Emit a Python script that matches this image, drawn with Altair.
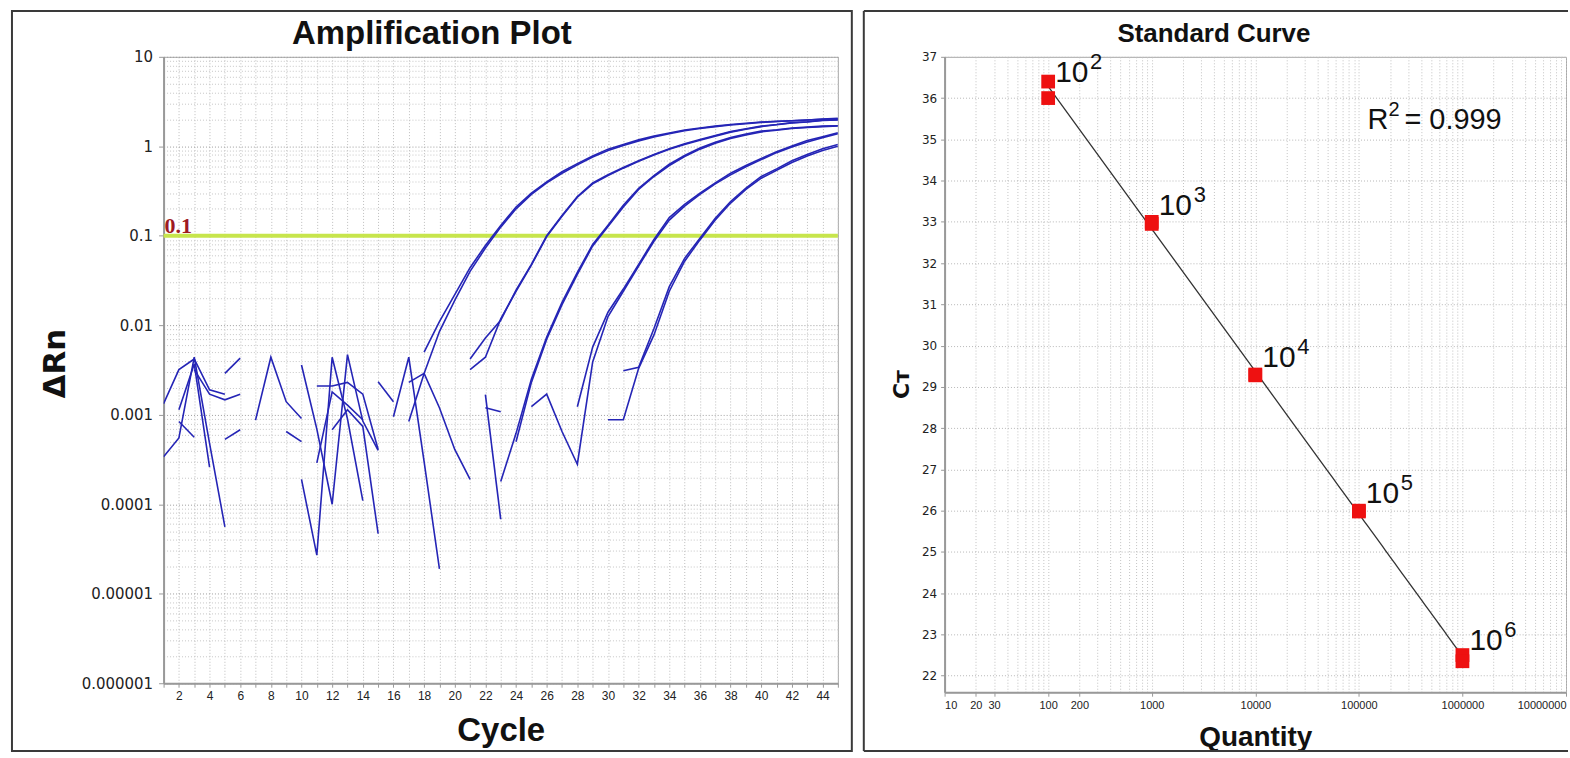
import json
import altair as alt
import pandas as pd
import numpy as np

N = None
CYCLES = list(range(1, 46))

# ---- Amplification plot: delta Rn per cycle for each well (None = not plotted) ----
A1 = [0.00133, 0.0032, 0.0042, 0.0019, 0.0017, N, N, N, N, N,
      N, N, N, N, N, N, N, 0.005, 0.011, 0.022,
      0.044, 0.078, 0.13, 0.21, 0.30, 0.40, 0.52, 0.64, 0.78, 0.93,
      1.05, 1.18, 1.30, 1.41, 1.52, 1.60, 1.68, 1.75, 1.81, 1.87,
      1.90, 1.93, 1.97, 2.02, 2.05]
A2 = [0.00034, 0.00055, 0.0044, 0.00048, 0.000056, N, N, N, N, N,
      N, N, N, N, N, N, 0.00084, 0.0029, 0.0085, 0.019,
      0.040, 0.073, 0.125, 0.20, 0.29, 0.39, 0.50, 0.62, 0.76, 0.90,
      1.02, 1.15, 1.27, 1.38, 1.49, 1.58, 1.66, 1.73, 1.79, 1.85,
      1.89, 1.93, 1.97, 2.00, 2.03]
B1 = [N, 0.00114, 0.0037, 0.00026, N, N, N, N, N, 0.0036,
      0.00069, 0.0001, 0.0047, 0.00085, 0.0004, N, N, N, N, N,
      0.0042, 0.0072, 0.0114, 0.0247, 0.048, 0.10, 0.169, 0.275, 0.39, 0.48,
      0.58, 0.69, 0.81, 0.94, 1.07, 1.19, 1.32, 1.46, 1.57, 1.68,
      1.75, 1.84, 1.88, 1.96, 1.98]
B2 = [N, 0.00084, 0.00056, N, N, N, N, N, N, 0.00019,
      0.000027, 0.0044, 0.0009, 0.00011, N, N, N, N, N, N,
      0.0032, 0.0044, 0.0118, 0.024, 0.047, 0.098, 0.165, 0.27, 0.38, 0.47,
      0.57, 0.68, 0.80, 0.93, 1.05, 1.17, 1.30, 1.44, 1.55, 1.66,
      1.74, 1.82, 1.87, 1.94, 1.97]
C1 = [N, N, 0.0032, 0.0017, 0.00147, 0.0017, N, N, N, N,
      0.00029, 0.0018, 0.00128, 0.00088, N, N, N, N, N, N,
      N, N, 0.00018, 0.00062, 0.0025, 0.0074, 0.018, 0.039, 0.080, 0.131,
      0.219, 0.34, 0.47, 0.63, 0.79, 0.955, 1.11, 1.25, 1.37, 1.48,
      1.53, 1.60, 1.64, 1.68, 1.70]
C2 = [N, N, N, N, 0.0029, 0.0043, N, N, N, N,
      N, 0.00068, 0.00114, 0.00074, 0.000047, N, N, N, N, N,
      N, N, N, 0.0005, 0.0023, 0.0070, 0.017, 0.037, 0.077, 0.127,
      0.21, 0.33, 0.46, 0.61, 0.77, 0.93, 1.08, 1.22, 1.34, 1.45,
      1.51, 1.58, 1.62, 1.66, 1.69]
D1 = [N, N, N, N, 0.00053, 0.00068, N, N, N, N,
      N, N, N, N, 0.00234, 0.0014, N, N, N, N,
      N, N, N, N, N, N, N, 0.00123, 0.0057, 0.014,
      0.0254, 0.048, 0.091, 0.16, 0.224, 0.30, 0.39, 0.50, 0.61, 0.73,
      0.87, 1.01, 1.16, 1.28, 1.42]
D2 = [N, N, N, N, N, N, 0.00087, 0.0044, 0.0014, 0.00091,
      N, N, N, N, N, N, 0.0023, 0.0029, 0.0012, 0.00041,
      0.00019, N, N, N, 0.00123, 0.0017, 0.00065, 0.00028, 0.0039, 0.0125,
      0.024, 0.046, 0.087, 0.15, 0.215, 0.29, 0.38, 0.48, 0.59, 0.71,
      0.85, 0.98, 1.12, 1.25, 1.38]
E1 = [N, N, N, N, N, N, N, N, 0.00065, 0.0005,
      N, N, N, N, N, 0.00095, 0.0044, 0.0003, 0.000019, N,
      N, 0.0012, 0.00108, N, N, N, N, N, N, N,
      0.0031, 0.0034, 0.0092, 0.027, 0.056, 0.094, 0.157, 0.242, 0.34, 0.46,
      0.56, 0.69, 0.81, 0.94, 1.05]
E2 = [N, N, N, N, N, N, N, N, N, N,
      0.0021, 0.0021, 0.0023, 0.0017, 0.00041, N, N, N, N, N,
      N, 0.00168, 0.000068, N, N, N, N, N, N, 0.00088,
      0.00088, 0.0033, 0.0078, 0.024, 0.052, 0.090, 0.150, 0.232, 0.33, 0.44,
      0.54, 0.66, 0.78, 0.90, 1.00]
WELLS = {"A1": A1, "A2": A2, "B1": B1, "B2": B2, "C1": C1,
         "C2": C2, "D1": D1, "D2": D2, "E1": E1, "E2": E2}
THRESHOLD = [0.1]
THRESHOLD_LABEL = ["0.1"]

# ---- Standard curve ----
STD_QUANTITY = [100, 100, 1000, 1000, 10000, 10000, 100000, 100000, 1000000, 1000000]
STD_CT = [36.4, 36.0, 33.0, 32.95, 29.3, 29.28, 26.0, 25.98, 22.5, 22.35]
R2_VALUE = "= 0.999"

X_RIGHT_LABELS = [10, 20, 30, 100, 200, 1000, 10000, 100000, 1000000, 10000000]
X_RIGHT_GRID = [k * 10 ** e for e in range(1, 7) for k in range(1, 10)] + [10 ** 7]
Y_LEFT_VALUES = [k * 10.0 ** e for e in range(-6, 1) for k in range(1, 10)] + [10.0]

for name, vals in WELLS.items():
    assert len(vals) == 45, (name, len(vals))

rows = []
for name, vals in WELLS.items():
    seg, prev = 0, False
    for c, v in zip(CYCLES, vals):
        if v is None:
            if prev:
                seg += 1
            prev = False
            continue
        rows.append({"well": name, "seg": f"{name}-{seg}", "cycle": c, "dRn": v})
        prev = True
amp = pd.DataFrame(rows)

std = pd.DataFrame({"quantity": STD_QUANTITY, "ct": STD_CT})
lab = std.groupby("quantity", as_index=False)["ct"].mean()
lab["base"] = "10"
lab["exp"] = [str(int(round(np.log10(q)))) for q in lab["quantity"]]

one = pd.DataFrame({"k": [0]})
FRAME = "#3a3a3a"
TXT = "#222222"
BOLD_FONT = "Liberation Sans"
NARROW = "Liberation Sans Narrow, Liberation Sans"

# ================= LEFT PANEL =================
W1, H1 = 676, 628
MAJOR = "abs(log(datum.value)/LN10 - round(log(datum.value)/LN10)) < 0.001"
xs1 = alt.Scale(domain=[1, 45], nice=False, zero=False)
ys1 = alt.Scale(type="log", domain=[1e-6, 10], nice=False)

x_axis1 = alt.Axis(
    values=CYCLES, labelExpr="datum.value % 2 == 0 ? datum.label : ''",
    labelOverlap=False, labelFont=NARROW, labelFontSize=12, labelColor=TXT,
    labelPadding=3, tickSize=4, tickColor="#999", domainColor="#999", domainWidth=2,
    grid=True, gridDash=[1, 2], gridColor="#bdbdbd",
    title="Cycle", titleFont=BOLD_FONT, titleFontSize=33, titleFontWeight="bold",
    titleColor="#111", titleY=47, titleBaseline="middle")
y_axis1 = alt.Axis(
    values=Y_LEFT_VALUES,
    labelExpr=f"{MAJOR} ? format(datum.value, '.6~f') : ''",
    labelOverlap=False, labelFont="DejaVu Sans", labelFontSize=15, labelColor=TXT,
    labelPadding=6, tickSize=5, tickColor="#999",
    tickOpacity={"condition": {"test": MAJOR, "value": 1}, "value": 0},
    domainColor="#999", domainWidth=2, grid=True, gridDash=[1, 2],
    gridColor={"condition": {"test": MAJOR, "value": "#9e9e9e"}, "value": "#c6c6c6"},
    title="ΔRn", titleFont="DejaVu Sans", titleFontSize=31, titleFontWeight="bold",
    titleColor="#111", titleX=-108, titleY=H1 / 2 - 7, titleAlign="center",
    titleBaseline="middle")

frame1 = alt.Chart(one).mark_rect(fillOpacity=0, stroke=FRAME, strokeWidth=2).encode(
    x=alt.value(-152), x2=alt.value(690), y=alt.value(-46), y2=alt.value(696))

curves = alt.Chart(amp).mark_line(color="#2525b6", strokeWidth=1.6, clip=True).encode(
    x=alt.X("cycle:Q", scale=xs1, axis=x_axis1),
    y=alt.Y("dRn:Q", scale=ys1, axis=y_axis1),
    detail="seg:N", order="cycle:Q")

thr = alt.Chart(pd.DataFrame({"t": THRESHOLD, "lab": THRESHOLD_LABEL}))
thr_rule = thr.mark_rule(color="#c7e54c", strokeWidth=4).encode(
    y=alt.Y("t:Q", scale=ys1, axis=y_axis1))
thr_text = thr.mark_text(align="left", baseline="alphabetic", dx=1, dy=-3,
                         font="Liberation Serif", fontSize=22, fontWeight="bold",
                         color="#9e1a22").encode(
    x=alt.value(0), y=alt.Y("t:Q", scale=ys1, axis=y_axis1), text="lab:N")

title1 = alt.Chart(pd.DataFrame({"t": ["Amplification Plot"]})).mark_text(
    font=BOLD_FONT, fontSize=33, fontWeight="bold", color="#111",
    align="center", baseline="alphabetic").encode(
    x=alt.value(269), y=alt.value(-13), text="t:N")

# invisible copy of the curves first so that it owns the axes; threshold drawn under the curves
left = alt.layer(curves.mark_line(opacity=0, clip=True), frame1, thr_rule, curves, thr_text,
                 title1).properties(width=W1, height=H1)

# ================= RIGHT PANEL =================
W2, H2 = 623, 637
xs2 = alt.Scale(type="log", domain=[10, 10 ** 7], nice=False)
ys2 = alt.Scale(domain=[21.6, 37], nice=False, zero=False)
XLAB_TEST = f"indexof({json.dumps(X_RIGHT_LABELS)}, datum.value) >= 0"

x_axis2 = alt.Axis(
    values=X_RIGHT_GRID, labelExpr=f"{XLAB_TEST} ? format(datum.value, 'd') : ''",
    labelOverlap=False, labelFlush=True, labelFont=NARROW, labelFontSize=11,
    labelColor=TXT, labelPadding=3, tickSize=4, tickColor="#999",
    tickOpacity={"condition": {"test": XLAB_TEST, "value": 1}, "value": 0},
    domainColor="#999", domainWidth=2, grid=True, gridDash=[1, 2], gridColor="#c2c2c2",
    title="Quantity", titleFont=BOLD_FONT, titleFontSize=28, titleFontWeight="bold",
    titleColor="#111", titleY=45, titleBaseline="middle")
y_axis2 = alt.Axis(
    values=list(range(22, 38)), labelFont="DejaVu Sans", labelFontSize=12,
    labelColor=TXT, labelPadding=4, tickSize=4, tickColor="#999",
    domainColor="#999", domainWidth=2, grid=True, gridDash=[1, 2], gridColor="#b8b8b8",
    title="Cт", titleFont="DejaVu Sans", titleFontSize=22, titleFontWeight="bold",
    titleColor="#111", titleX=-43, titleY=328, titleAlign="center",
    titleBaseline="middle")

frame_l = alt.Chart(one).mark_rule(color=FRAME, strokeWidth=2).encode(
    x=alt.value(-81), y=alt.value(-46), y2=alt.value(696))
frame_t = alt.Chart(one).mark_rule(color=FRAME, strokeWidth=2).encode(
    x=alt.value(-81), x2=alt.value(625), y=alt.value(-46))
frame_b = alt.Chart(one).mark_rule(color=FRAME, strokeWidth=2).encode(
    x=alt.value(-81), x2=alt.value(625), y=alt.value(696))

fit = alt.Chart(std).transform_regression("quantity", "ct", method="log").mark_line(
    color="#333333", strokeWidth=1.3).encode(
    x=alt.X("quantity:Q", scale=xs2, axis=x_axis2),
    y=alt.Y("ct:Q", scale=ys2, axis=y_axis2))
pts = alt.Chart(std).mark_square(size=190, color="#ee1111", opacity=1).encode(
    x=alt.X("quantity:Q", scale=xs2, axis=x_axis2), y=alt.Y("ct:Q", scale=ys2, axis=y_axis2))
lab_base = alt.Chart(lab).mark_text(font="Liberation Sans", fontSize=30, color="#111",
                                    align="left", baseline="alphabetic", dx=7, dy=-8).encode(
    x=alt.X("quantity:Q", scale=xs2, axis=x_axis2), y=alt.Y("ct:Q", scale=ys2, axis=y_axis2),
    text="base:N")
lab_exp = alt.Chart(lab).mark_text(font="Liberation Sans", fontSize=22, color="#111",
                                   align="left", baseline="alphabetic", dx=42, dy=-21).encode(
    x=alt.X("quantity:Q", scale=xs2, axis=x_axis2), y=alt.Y("ct:Q", scale=ys2, axis=y_axis2),
    text="exp:N")

title2 = alt.Chart(pd.DataFrame({"t": ["Standard Curve"]})).mark_text(
    font=BOLD_FONT, fontSize=26, fontWeight="bold", color="#111",
    align="center", baseline="alphabetic").encode(
    x=alt.value(270), y=alt.value(-15), text="t:N")

r2 = alt.Chart(pd.DataFrame({"r": ["R"], "s": ["2"], "v": [R2_VALUE]}))
r2_r = r2.mark_text(font="Liberation Sans", fontSize=29, color="#111", align="left",
                    baseline="alphabetic").encode(x=alt.value(424), y=alt.value(72), text="r:N")
r2_s = r2.mark_text(font="Liberation Sans", fontSize=20, color="#111", align="left",
                    baseline="alphabetic").encode(x=alt.value(445), y=alt.value(59), text="s:N")
r2_v = r2.mark_text(font="Liberation Sans", fontSize=29, color="#111", align="left",
                    baseline="alphabetic").encode(x=alt.value(461), y=alt.value(72), text="v:N")

right = alt.layer(frame_l, frame_t, frame_b, fit, pts, lab_base, lab_exp,
                  title2, r2_r, r2_s, r2_v).properties(width=W2, height=H2)

chart = alt.hconcat(left, right, spacing=8).properties(
    padding={"left": 10, "top": 8, "right": 0, "bottom": 6},
    background="white",
).configure_view(stroke="#a8a8a8", strokeWidth=1)

chart.save("out.html", embed_options={"renderer": "svg", "actions": False})
